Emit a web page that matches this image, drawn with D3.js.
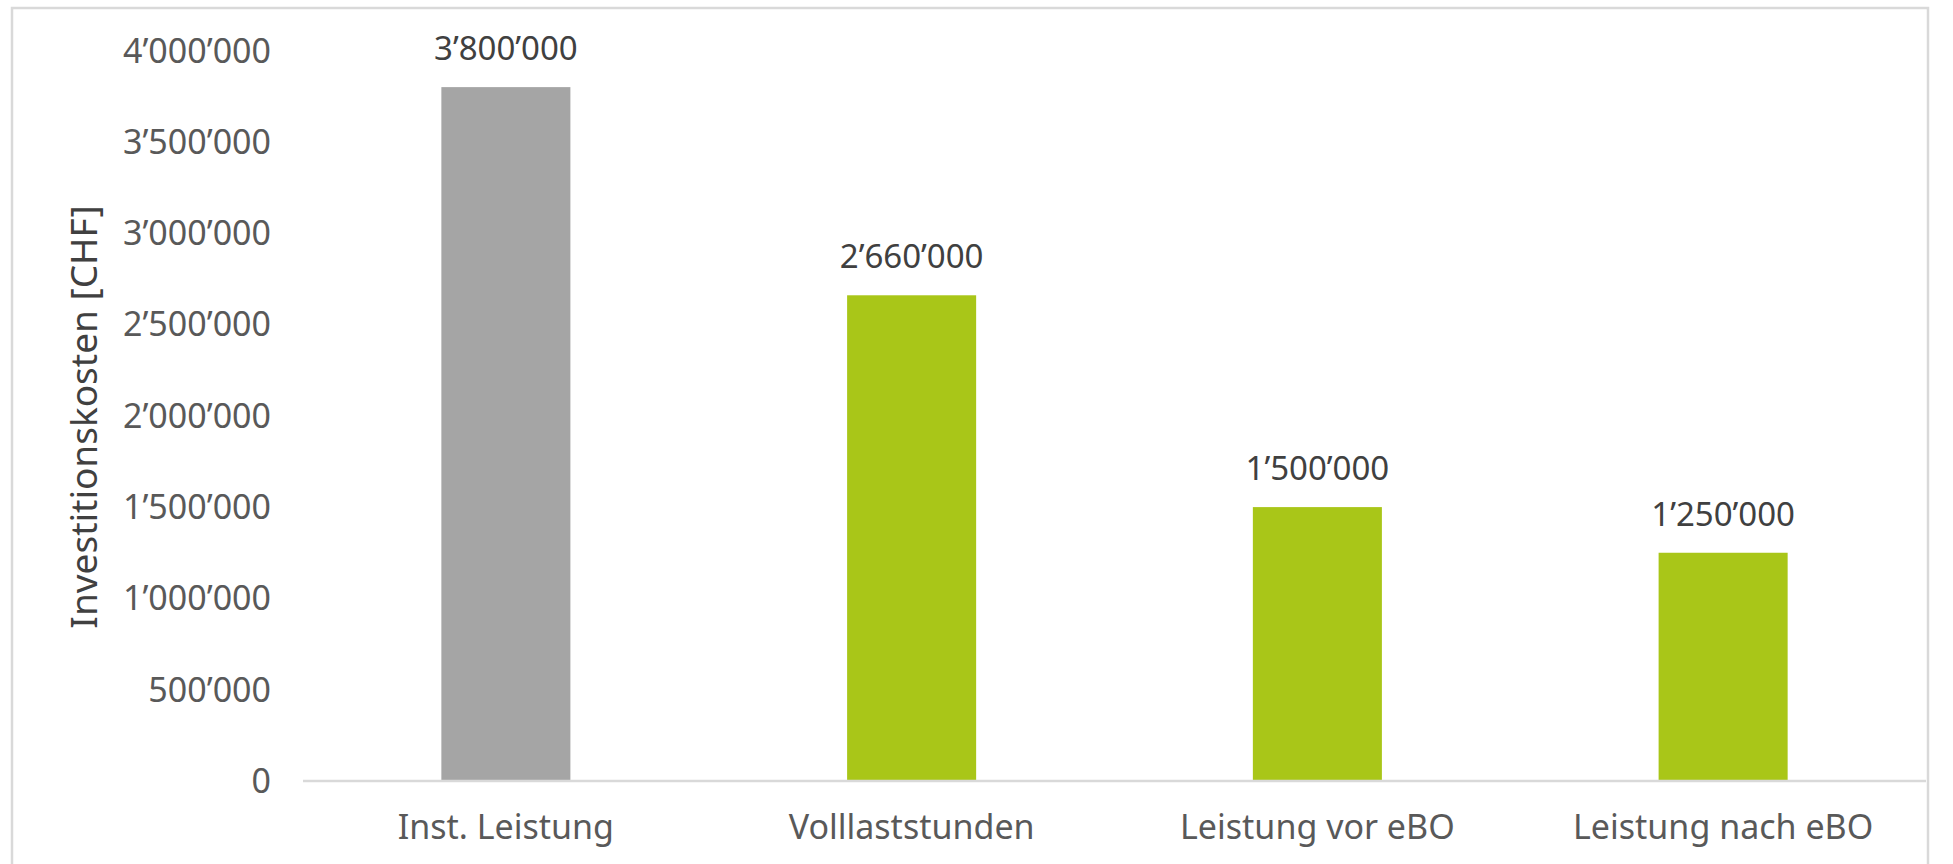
<!DOCTYPE html>
<meta charset="utf-8">
<title>Investitionskosten</title>
<style>
    body {
        margin: 0;
        background: #fff;
        overflow: hidden;
    }

    svg {
        display: block;
        font-family: "Noto Sans", "Liberation Sans", sans-serif;
    }

    .tick-label {
        fill: #595959;
        font-size: 34px;
    }

    .value-label {
        fill: #404040;
        font-size: 33px;
    }

    .axis-title {
        fill: #404040;
        font-size: 37px;
    }
</style>

<body>
    <svg></svg>

    <script src="https://d3js.org/d3.v7.min.js"></script>
    <script>
        // chart data
        const categories = ["Inst. Leistung", "Volllaststunden", "Leistung vor eBO", "Leistung nach eBO"];
        const values = [3800000, 2660000, 1500000, 1250000];
        const barColors = ["#a5a5a5", "#a9c618", "#a9c618", "#a9c618"];
        const yTicks = [0, 500000, 1000000, 1500000, 2000000, 2500000, 3000000, 3500000, 4000000];
        const yTitle = "Investitionskosten [CHF]";

        const width = 1953;
        const height = 864;

        const svg = d3.select("svg")
            .attr("width", width)
            .attr("height", height);

        // outer frame (bottom edge falls outside the picture)
        svg.append("rect")
            .attr("x", 12)
            .attr("y", 8)
            .attr("width", 1916)
            .attr("height", 900)
            .attr("fill", "none")
            .attr("stroke", "#d9d9d9")
            .attr("stroke-width", 2.5);

        const plot = { left: 303, right: 1926, top: 50.6, bottom: 781 };

        const x = d3.scaleBand()
            .domain(categories)
            .range([plot.left, plot.right])
            .paddingInner(0.682)
            .paddingOuter(0.341);

        const y = d3.scaleLinear()
            .domain([0, 4000000])
            .range([plot.bottom, plot.top]);

        // Swiss style thousands separator
        const fmt = d => d3.format(",")(d).replace(/,/g, "\u2019");

        // y tick labels
        svg.append("g")
            .selectAll("text")
            .data(yTicks)
            .join("text")
            .attr("class", "tick-label")
            .attr("x", 271)
            .attr("y", d => y(d))
            .attr("dy", "0.35em")
            .attr("text-anchor", "end")
            .text(fmt);

        // y title
        svg.append("text")
            .attr("class", "axis-title")
            .attr("transform", "translate(97," + 417 + ") rotate(-90)")
            .attr("text-anchor", "middle")
            .text(yTitle);

        // bars
        svg.append("g")
            .selectAll("rect")
            .data(values)
            .join("rect")
            .attr("x", (d, i) => x(categories[i]))
            .attr("width", x.bandwidth())
            .attr("y", d => y(d))
            .attr("height", d => y(0) - y(d))
            .attr("fill", (d, i) => barColors[i]);

        // baseline
        svg.append("line")
            .attr("x1", plot.left)
            .attr("x2", plot.right)
            .attr("y1", y(0))
            .attr("y2", y(0))
            .attr("stroke", "#d9d9d9")
            .attr("stroke-width", 2.5);

        // value labels above bars
        svg.append("g")
            .selectAll("text")
            .data(values)
            .join("text")
            .attr("class", "value-label")
            .attr("x", (d, i) => x(categories[i]) + x.bandwidth() / 2)
            .attr("y", d => y(d) - 27)
            .attr("text-anchor", "middle")
            .text(fmt);

        // category labels
        svg.append("g")
            .selectAll("text")
            .data(categories)
            .join("text")
            .attr("class", "tick-label")
            .attr("x", d => x(d) + x.bandwidth() / 2)
            .attr("y", 827)
            .attr("dy", "0.35em")
            .attr("text-anchor", "middle")
            .text(d => d);
    </script>
</body>

</html>
